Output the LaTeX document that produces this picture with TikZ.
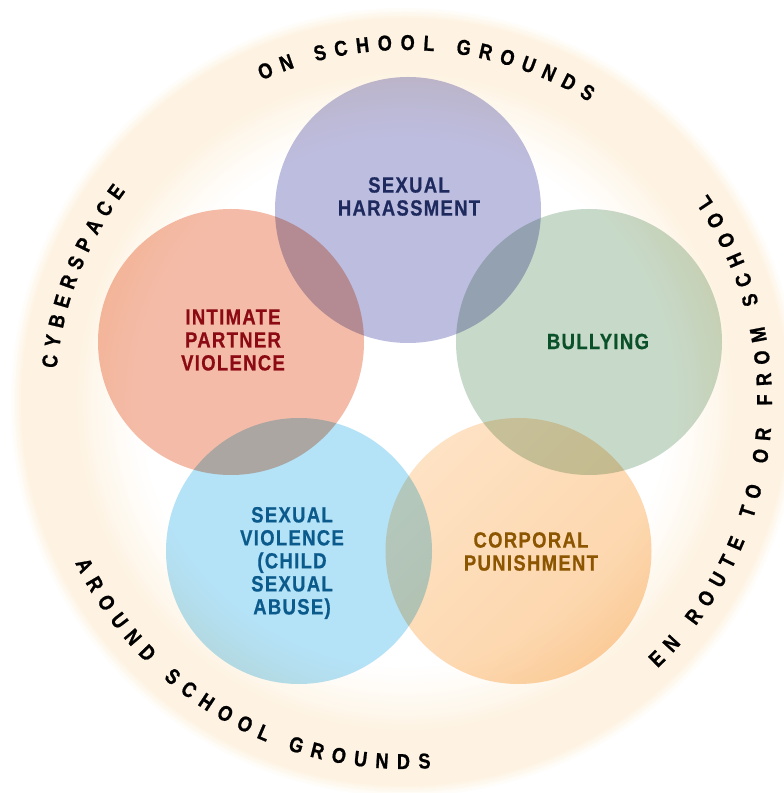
\documentclass[tikz,border=0pt]{standalone}
\usepackage{fontspec}
\usetikzlibrary{decorations.text}

\newfontfamily\labelfont[FakeStretch=0.84, LetterSpace=6, FakeBold=0.6]{Liberation Sans}
\newfontfamily\arcfont[FakeStretch=0.84, FakeBold=1]{Liberation Sans}
\newcommand\arcstyle{\arcfont\bfseries\fontsize{21.5}{21.5}\selectfont}

\definecolor{ringpeach}{RGB}{254,243,226}
\definecolor{arcgray}{RGB}{58,58,62}
\definecolor{harassfill}{RGB}{189,189,224}
\definecolor{partnerfill}{RGB}{244,188,168}
\definecolor{bullyfill}{RGB}{199,218,202}
\definecolor{abusefill}{RGB}{180,226,247}
\definecolor{punishfill}{RGB}{254,226,196}
\definecolor{punishdeep}{RGB}{252,212,168}
\definecolor{harassink}{RGB}{30,42,94}
\definecolor{partnerink}{RGB}{140,10,20}
\definecolor{bullyink}{RGB}{10,80,40}
\definecolor{abuseink}{RGB}{10,90,140}
\definecolor{punishink}{RGB}{140,85,0}

\begin{document}
\begin{tikzpicture}[x=1pt, y=1pt]
  \useasboundingbox (0,0) rectangle (784,793);
  \fill[white] (0,0) rectangle (784,793);
  \clip (0,0) rectangle (784,793);
  \coordinate (ring) at (405,391);
  % soft peach ring, outer edge first
  \foreach \r in {396,394,...,262} {
    \pgfmathsetmacro\tint{\r>384 ? (396-\r)/12*100 : (\r>330 ? 100 : 100*((\r-262)/68)^1.3)}
    \fill[ringpeach!\tint!white] (ring) circle[radius=\r pt];
  }
  % the five overlapping circles
  \begin{scope}[blend mode=multiply, every node/.style={circle, inner sep=0pt, minimum size=266pt}]
    \node (harass) [fill=harassfill] at (408, 583) {};
    \node (partner) [fill=partnerfill] at (231, 451) {};
    \node (bully) [fill=bullyfill] at (589, 451) {};
    \node (abuse) [fill=abusefill] at (299, 242) {};
    \node (punish) [top color=punishfill, bottom color=punishdeep, shading angle=45] at (518.5, 242) {};
  \end{scope}
  \begin{scope}[every node/.style={align=center, font=\labelfont\bfseries\fontsize{22}{23}\selectfont}]
    \node (harasslabel) [text=harassink] at (409, 596.5) {SEXUAL\\HARASSMENT};
    \node (partnerlabel) [text=partnerink] at (233, 453) {INTIMATE\\PARTNER\\VIOLENCE};
    \node (bullylabel) [text=bullyink] at (598, 451.5) {BULLYING};
    \node (abuselabel) [text=abuseink] at (292, 230) {SEXUAL\\VIOLENCE\\(CHILD\\SEXUAL\\ABUSE)};
    \node (punishlabel) [text=punishink] at (531, 241.5) {CORPORAL\\PUNISHMENT};
  \end{scope}
  % settings round the ring
  \begin{scope}[color=arcgray, font=\arcstyle]
    \path[decorate, decoration={text along path, text align=fit to path,
        text={|\arcstyle|ON SCHOOL GROUNDS}}]
      (ring) ++(114:352pt) arc[start angle=114, end angle=58.5, radius=352pt];
    \path[decorate, decoration={text along path, text align=fit to path,
        text={|\arcstyle|EN ROUTE TO OR FROM SCHOOL}}]
      (ring) ++(-46.5:367pt) arc[start angle=-46.5, end angle=34.5, radius=367pt];
    \path[decorate, decoration={text along path, text align=fit to path,
        text={|\arcstyle|AROUND SCHOOL GROUNDS}}]
      (ring) ++(206:367pt) arc[start angle=206, end angle=274, radius=367pt];
    \path[decorate, decoration={text along path, text align=fit to path,
        text={|\arcstyle|CYBERSPACE}}]
      (ring) ++(174.5:350pt) arc[start angle=174.5, end angle=143, radius=350pt];
  \end{scope}
\end{tikzpicture}
\end{document}
